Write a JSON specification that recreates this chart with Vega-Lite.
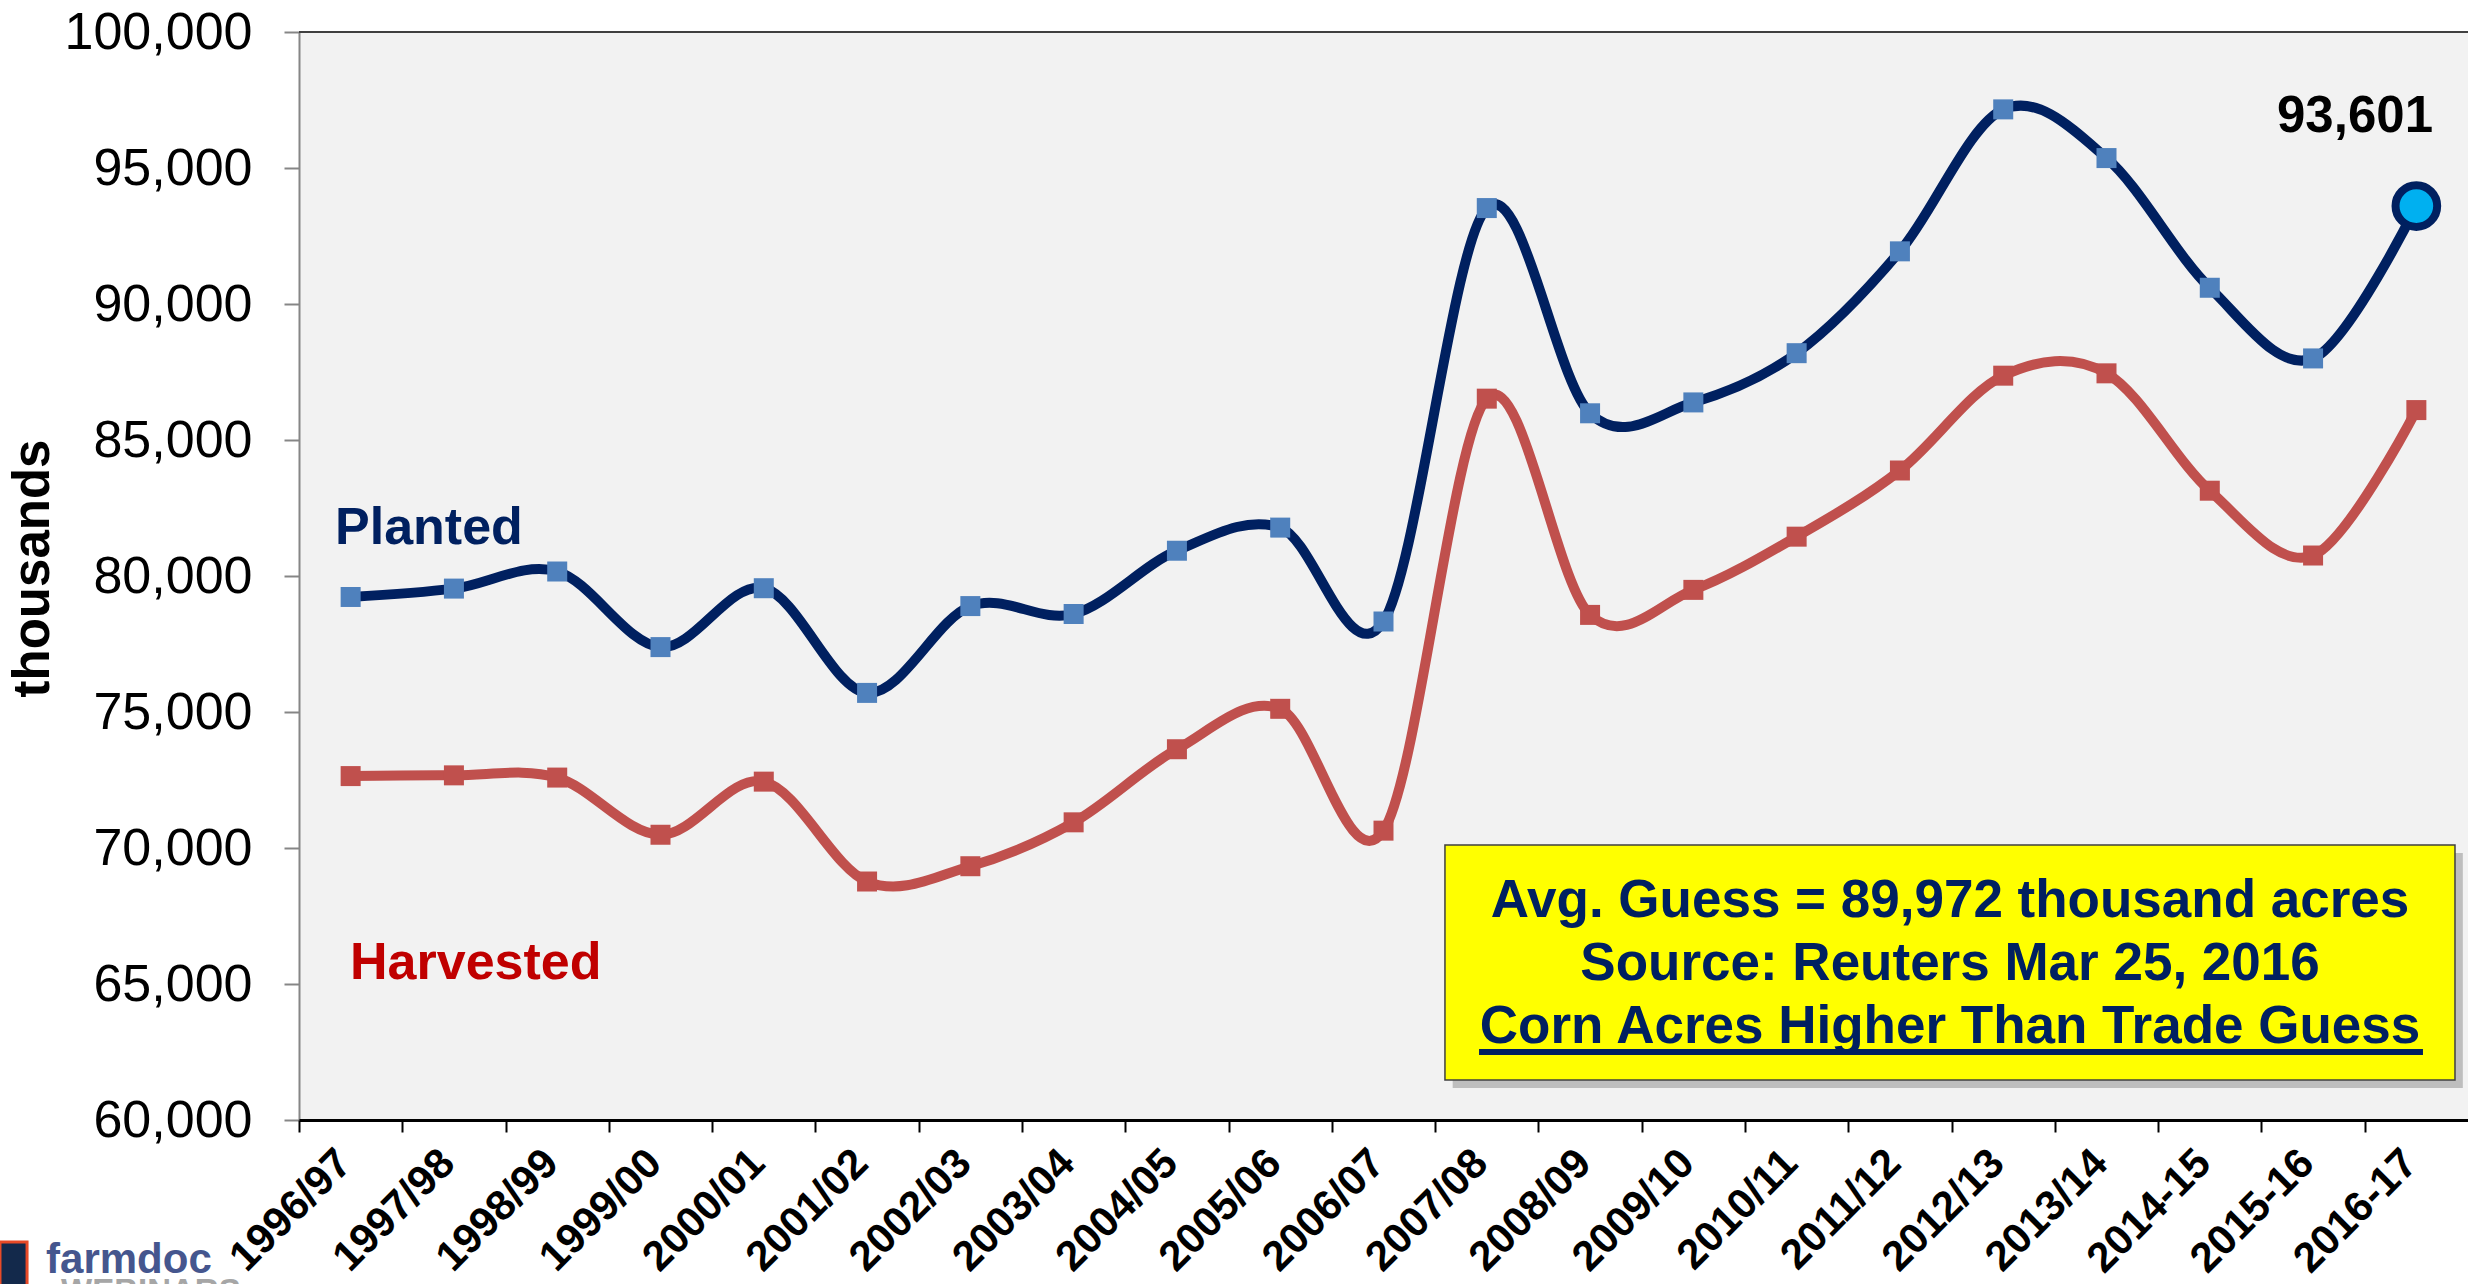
{
  "$schema": "https://vega.github.io/schema/vega-lite/v6.json",
  "width": 2169,
  "height": 1088,
  "autosize": {"type": "none"},
  "padding": {"left": 299, "top": 32, "right": 0, "bottom": 164},
  "background": "white",
  "config": {
    "font": "Liberation Sans",
    "numberFormat": ",d",
    "view": {"fill": "#F2F2F2", "stroke": null},
    "axisY": {
      "tickCount": 8, "labelFontSize": 52, "labelColor": "black", "labelPadding": 32,
      "labelLimit": 400, "labelFlush": false, "tickSize": 15, "tickColor": "#868686", "tickWidth": 2,
      "domainColor": "#868686", "domainWidth": 2, "grid": false,
      "titleFontSize": 51, "titleFontWeight": "bold", "titleColor": "black",
      "titleX": -251, "titleY": 536, "titleAngle": -90, "titleAlign": "center",
      "titleBaseline": "alphabetic", "zindex": 1
    }
  },
  "datasets": {
    "acres": [
      {"year": "1996/97", "planted": 79229, "harvested": 72644},
      {"year": "1997/98", "planted": 79537, "harvested": 72671},
      {"year": "1998/99", "planted": 80165, "harvested": 72589},
      {"year": "1999/00", "planted": 77386, "harvested": 70487},
      {"year": "2000/01", "planted": 79551, "harvested": 72440},
      {"year": "2001/02", "planted": 75702, "harvested": 68768},
      {"year": "2002/03", "planted": 78894, "harvested": 69330},
      {"year": "2003/04", "planted": 78603, "harvested": 70944},
      {"year": "2004/05", "planted": 80929, "harvested": 73631},
      {"year": "2005/06", "planted": 81779, "harvested": 75117},
      {"year": "2006/07", "planted": 78327, "harvested": 70638},
      {"year": "2007/08", "planted": 93527, "harvested": 86520},
      {"year": "2008/09", "planted": 85982, "harvested": 78570},
      {"year": "2009/10", "planted": 86382, "harvested": 79490},
      {"year": "2010/11", "planted": 88192, "harvested": 81446},
      {"year": "2011/12", "planted": 91936, "harvested": 83879},
      {"year": "2012/13", "planted": 97155, "harvested": 87365},
      {"year": "2013/14", "planted": 95365, "harvested": 87451},
      {"year": "2014-15", "planted": 90597, "harvested": 83136},
      {"year": "2015-16", "planted": 87999, "harvested": 80753},
      {"year": "2016-17", "planted": 93601, "harvested": 86100}
    ]
  },
  "layer": [
    {
      "data": {"name": "acres"},
      "encoding": {
        "x": {
          "field": "year", "type": "ordinal", "sort": null,
          "scale": {"type": "point", "padding": 0.5},
          "axis": {
            "title": null, "labelAngle": -45, "labelAlign": "right", "labelBaseline": "top",
            "labelFontSize": 42, "labelFontWeight": "bold", "labelColor": "black",
            "labelPadding": 10, "labelOffset": 31, "tickOffset": -51.64,
            "tickSize": 12, "tickWidth": 2, "tickColor": "black",
            "domainColor": "black", "domainWidth": 3, "grid": false,
            "labelOverlap": false, "labelBound": false, "zindex": 1
          }
        }
      },
      "layer": [
        {
          "mark": {"type": "line", "interpolate": "cardinal", "color": "#002060", "strokeWidth": 10},
          "encoding": {
            "y": {
              "field": "planted", "type": "quantitative", "title": "thousands",
              "scale": {"domain": [60000, 100000], "nice": false, "zero": false}
            }
          }
        },
        {
          "mark": {"type": "line", "interpolate": "cardinal", "color": "#C0504D", "strokeWidth": 10},
          "encoding": {"y": {"field": "harvested", "type": "quantitative", "title": "thousands"}}
        },
        {
          "transform": [{"filter": "datum.year != '2016-17'"}],
          "mark": {"type": "point", "shape": "square", "filled": true, "color": "#4F81BD", "size": 400, "opacity": 1},
          "encoding": {"y": {"field": "planted", "type": "quantitative", "title": "thousands"}}
        },
        {
          "mark": {"type": "point", "shape": "square", "filled": true, "color": "#C0504D", "size": 400, "opacity": 1},
          "encoding": {"y": {"field": "harvested", "type": "quantitative", "title": "thousands"}}
        },
        {
          "transform": [{"filter": "datum.year == '2016-17'"}],
          "mark": {"type": "point", "shape": "circle", "filled": true, "fill": "#00B0F0", "stroke": "#002060", "strokeWidth": 8, "size": 1735, "opacity": 1},
          "encoding": {"y": {"field": "planted", "type": "quantitative", "title": "thousands"}}
        }
      ]
    },
    {
      "data": {"values": [{"x": 0, "x2": 21, "y": 100000}]},
      "mark": {"type": "rule", "color": "#404040", "strokeWidth": 2},
      "encoding": {
        "x": {"field": "x", "type": "quantitative", "scale": {"domain": [0, 21], "nice": false, "zero": false}, "axis": null},
        "x2": {"field": "x2"},
        "y": {"field": "y", "type": "quantitative", "title": "thousands"}
      }
    },
    {
      "data": {"values": [{"x": 0.349, "y": 81176, "label": "Planted"}]},
      "mark": {"type": "text", "align": "left", "baseline": "alphabetic", "fontSize": 52, "fontWeight": "bold", "color": "#002060"},
      "encoding": {
        "x": {"field": "x", "type": "quantitative", "scale": {"domain": [0, 21], "nice": false, "zero": false}, "axis": null},
        "y": {"field": "y", "type": "quantitative", "title": "thousands"},
        "text": {"field": "label"}
      }
    },
    {
      "data": {"values": [{"x": 0.494, "y": 65184, "label": "Harvested"}]},
      "mark": {"type": "text", "align": "left", "baseline": "alphabetic", "fontSize": 52, "fontWeight": "bold", "color": "#C00000"},
      "encoding": {
        "x": {"field": "x", "type": "quantitative", "scale": {"domain": [0, 21], "nice": false, "zero": false}, "axis": null},
        "y": {"field": "y", "type": "quantitative", "title": "thousands"},
        "text": {"field": "label"}
      }
    },
    {
      "data": {"values": [{"x": 19.906, "y": 96324, "label": "93,601"}]},
      "mark": {"type": "text", "align": "center", "baseline": "alphabetic", "fontSize": 51, "fontWeight": "bold", "color": "black"},
      "encoding": {
        "x": {"field": "x", "type": "quantitative", "scale": {"domain": [0, 21], "nice": false, "zero": false}, "axis": null},
        "y": {"field": "y", "type": "quantitative", "title": "thousands"},
        "text": {"field": "label"}
      }
    },
    {
      "data": {"values": [{"x": 11.17, "x2": 20.95, "y": 69816, "y2": 61176}]},
      "mark": {"type": "rect", "color": "#7F7F7F", "opacity": 0.45},
      "encoding": {
        "x": {"field": "x", "type": "quantitative", "scale": {"domain": [0, 21], "nice": false, "zero": false}, "axis": null},
        "x2": {"field": "x2"},
        "y": {"field": "y", "type": "quantitative", "title": "thousands"},
        "y2": {"field": "y2"}
      }
    },
    {
      "data": {"values": [{"x": 11.095, "x2": 20.874, "y": 70110, "y2": 61471}]},
      "mark": {"type": "rect", "fill": "#FFFF00", "stroke": "#404040", "strokeWidth": 1.5, "opacity": 1},
      "encoding": {
        "x": {"field": "x", "type": "quantitative", "scale": {"domain": [0, 21], "nice": false, "zero": false}, "axis": null},
        "x2": {"field": "x2"},
        "y": {"field": "y", "type": "quantitative", "title": "thousands"},
        "y2": {"field": "y2"}
      }
    },
    {
      "data": {"values": [
        {"x": 15.985, "y": 67463, "label": "Avg. Guess = 89,972 thousand acres"},
        {"x": 15.985, "y": 65147, "label": "Source: Reuters Mar 25, 2016"},
        {"x": 15.985, "y": 62831, "label": "Corn Acres Higher Than Trade Guess"}
      ]},
      "mark": {"type": "text", "align": "center", "baseline": "alphabetic", "fontSize": 53, "fontWeight": "bold", "color": "#002060"},
      "encoding": {
        "x": {"field": "x", "type": "quantitative", "scale": {"domain": [0, 21], "nice": false, "zero": false}, "axis": null},
        "y": {"field": "y", "type": "quantitative", "title": "thousands"},
        "text": {"field": "label"}
      }
    },
    {
      "data": {"values": [{"x": 11.425, "x2": 20.564, "y": 62500}]},
      "mark": {"type": "rule", "color": "#002060", "strokeWidth": 6},
      "encoding": {
        "x": {"field": "x", "type": "quantitative", "scale": {"domain": [0, 21], "nice": false, "zero": false}, "axis": null},
        "x2": {"field": "x2"},
        "y": {"field": "y", "type": "quantitative", "title": "thousands"}
      }
    },
    {
      "data": {"values": [{"x": -2.895, "x2": -2.633, "y": 55515, "y2": 53750}]},
      "mark": {"type": "rect", "fill": "#13294B", "stroke": "#E84A27", "strokeWidth": 3, "opacity": 1},
      "encoding": {
        "x": {"field": "x", "type": "quantitative", "scale": {"domain": [0, 21], "nice": false, "zero": false}, "axis": null},
        "x2": {"field": "x2"},
        "y": {"field": "y", "type": "quantitative", "title": "thousands"},
        "y2": {"field": "y2"}
      }
    },
    {
      "data": {"values": [{"x": -2.449, "y": 54375, "label": "farmdoc"}]},
      "mark": {"type": "text", "align": "left", "baseline": "alphabetic", "fontSize": 42, "fontWeight": "bold", "color": "#45568E"},
      "encoding": {
        "x": {"field": "x", "type": "quantitative", "scale": {"domain": [0, 21], "nice": false, "zero": false}, "axis": null},
        "y": {"field": "y", "type": "quantitative", "title": "thousands"},
        "text": {"field": "label"}
      }
    },
    {
      "data": {"values": [{"x": -2.304, "y": 53309, "label": "WEBINARS"}]},
      "mark": {"type": "text", "align": "left", "baseline": "alphabetic", "fontSize": 33, "fontWeight": "bold", "color": "#A6A6A6"},
      "encoding": {
        "x": {"field": "x", "type": "quantitative", "scale": {"domain": [0, 21], "nice": false, "zero": false}, "axis": null},
        "y": {"field": "y", "type": "quantitative", "title": "thousands"},
        "text": {"field": "label"}
      }
    }
  ],
  "resolve": {"scale": {"x": "independent"}, "axis": {"x": "independent"}}
}
